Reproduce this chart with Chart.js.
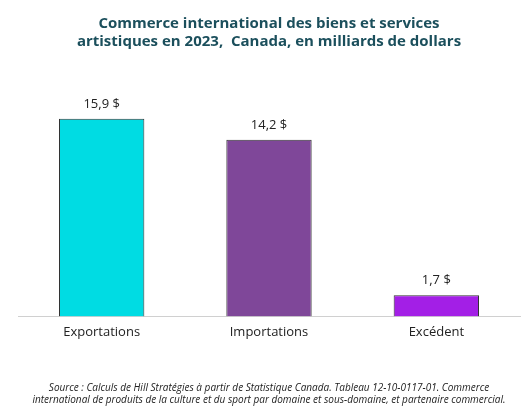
<!DOCTYPE html>
<html><head><meta charset="utf-8">
<script src="https://cdn.jsdelivr.net/npm/chart.js@4"></script>
<style>html,body{margin:0;padding:0;background:#fff}#w{width:532px;height:412px}</style>
</head><body><div id="w"><canvas id="c"></canvas></div>
<script>
const categories = ["Exportations", "Importations", "Excédent"];
const values = [15.9, 14.2, 1.7];
const labels = ["15,9 $", "14,2 $", "1,7 $"];
const colors = ["#00DCE3", "#7F4799", "#A31FE6"];

const valueLabels = {
  id: "valueLabels",
  afterDatasetsDraw(chart) {
    const ctx = chart.ctx;
    ctx.save();
    ctx.font = "13px 'Open Sans', sans-serif";
    ctx.fillStyle = "#222";
    ctx.textAlign = "center";
    ctx.textBaseline = "bottom";
    chart.getDatasetMeta(0).data.forEach((b, i) => {
      ctx.fillText(labels[i], b.x, b.y - 8);
    });
    ctx.restore();
  }
};

new Chart(document.getElementById("c"), {
  type: "bar",
  data: { labels: categories, datasets: [{ data: values, backgroundColor: colors, borderColor: "#333", borderWidth: 1, barPercentage: 0.51, categoryPercentage: 1 }] },
  options: {
    responsive: true, maintainAspectRatio: false, animation: false,
    layout: { padding: { left: 18, right: 12, top: 11, bottom: 4 } },
    plugins: {
      legend: { display: false }, tooltip: { enabled: false },
      title: { display: true, text: ["Commerce international des biens et services", "artistiques en 2023,  Canada, en milliards de dollars"],
        color: "#1B4F5C", font: { family: "'Open Sans', sans-serif", size: 15, weight: "bold" }, padding: { top: 4, bottom: 13 }, lineHeight: 1.55 },
      subtitle: { display: true, position: "bottom", text: ["Source : Calculs de Hill Stratégies à partir de Statistique Canada. Tableau 12-10-0117-01. Commerce", "international de produits de la culture et du sport par domaine et sous-domaine, et partenaire commercial."],
        color: "#222", font: { family: "'Open Sans', sans-serif", size: 10, style: "italic" }, padding: { top: 34, bottom: 2 }, lineHeight: 1.45 }
    },
    scales: {
      x: { grid: { display: false, drawTicks: false }, border: { color: "#d0d0d0" },
        ticks: { color: "#222", padding: 8, font: { family: "'Open Sans', sans-serif", size: 13 } } },
      y: { display: false, min: 0, max: 20.3 }
    }
  },
  plugins: [valueLabels]
});
</script></body></html>
